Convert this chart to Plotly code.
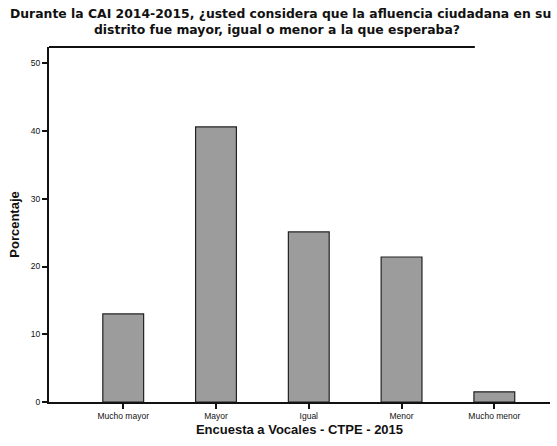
import plotly.graph_objects as go

categories = ["Mucho mayor", "Mayor", "Igual", "Menor", "Mucho menor"]
percentages = [13.0, 40.6, 25.1, 21.4, 1.5]
y_ticks = [0, 10, 20, 30, 40, 50]

title_line1 = "Durante la CAI 2014-2015, ¿usted considera que la afluencia ciudadana en su"
title_line2 = "distrito fue mayor, igual o menor a la que esperaba?"

fig = go.Figure()
fig.add_trace(go.Bar(
    x=categories,
    y=percentages,
    width=0.44,
    marker=dict(color="#9c9c9c", line=dict(color="#222222", width=1.2)),
))

fig.update_layout(
    width=557, height=446,
    margin=dict(l=49, r=7, t=47, b=44),
    paper_bgcolor="white", plot_bgcolor="white",
    showlegend=False,
    font=dict(family="Liberation Sans, Arial, sans-serif", color="#111111"),
    bargap=0.5,
)

title_font = dict(family="DejaVu Sans, sans-serif", size=12.4, color="#111111")
fig.add_annotation(text="<b>" + title_line1 + "</b>", xref="paper", yref="paper",
                   x=0.462, y=1 + (47 - 14) / 355, xanchor="center", yanchor="middle",
                   showarrow=False, font=title_font)
fig.add_annotation(text="<b>" + title_line2 + "</b>", xref="paper", yref="paper",
                   x=0.456, y=1 + (47 - 29) / 355, xanchor="center", yanchor="middle",
                   showarrow=False, font=title_font)

fig.update_xaxes(
    type="category",
    range=[-0.8, 4.6],
    showline=True, linecolor="#111111", linewidth=2, mirror=False,
    ticks="outside", ticklen=5, tickcolor="#111111", tickwidth=1.5,
    tickfont=dict(size=8.5, color="#111111"),
    showgrid=False,
    title=dict(text="<b>Encuesta a Vocales - CTPE - 2015</b>", font=dict(size=13), standoff=5),
)
fig.update_yaxes(
    range=[0, 52.4],
    tickvals=y_ticks,
    showline=True, linecolor="#111111", linewidth=2,
    ticks="outside", ticklen=5, tickcolor="#111111", tickwidth=1.5,
    tickfont=dict(size=8.5, color="#111111"),
    showgrid=False, zeroline=False,
    title=dict(text="<b>Porcentaje</b>", font=dict(size=13), standoff=8),
)

# top frame line
fig.add_shape(type="line", xref="paper", yref="paper", x0=0, x1=0.85, y0=1, y1=1,
              line=dict(color="#111111", width=2))

fig.write_html("out.html", config={"displayModeBar": False},
               post_script="document.body.style.margin='0';")
